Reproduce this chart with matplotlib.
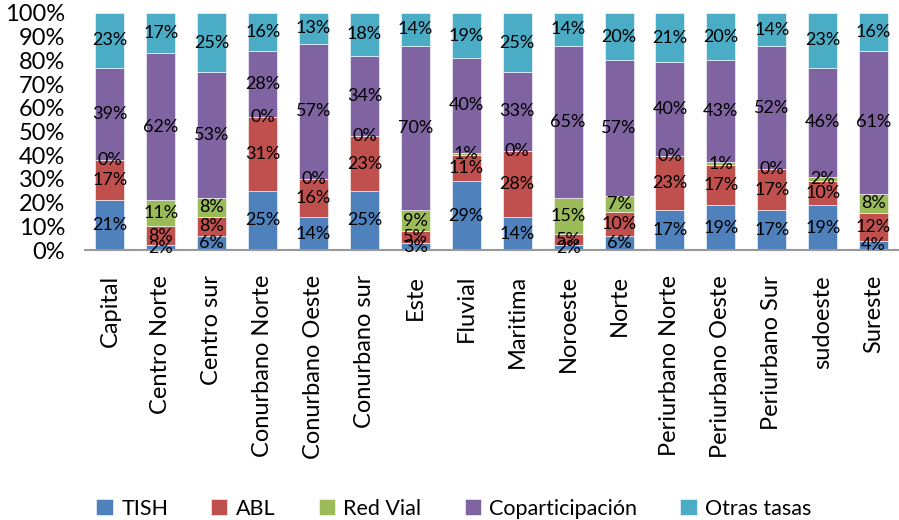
import matplotlib.pyplot as plt
import numpy as np

plt.rcParams['font.family'] = ['Lato', 'DejaVu Sans']

regiones = ["Capital", "Centro Norte", "Centro sur", "Conurbano Norte", "Conurbano Oeste",
            "Conurbano sur", "Este", "Fluvial", "Maritima", "Noroeste", "Norte",
            "Periurbano Norte", "Periurbano Oeste", "Periurbano Sur", "sudoeste", "Sureste"]

tish = [21, 2, 6, 25, 14, 25, 3, 29, 14, 2, 6, 17, 19, 17, 19, 4]
abl = [17, 8, 8, 31, 16, 23, 5, 11, 28, 5, 10, 23, 17, 17, 10, 12]
red_vial = [0, 11, 8, 0, 0, 0, 9, 1, 0, 15, 7, 0, 1, 0, 2, 8]
copart = [39, 62, 53, 28, 57, 34, 70, 40, 33, 65, 57, 40, 43, 52, 46, 61]
otras = [23, 17, 25, 16, 13, 18, 14, 19, 25, 14, 20, 21, 20, 14, 23, 16]

series = [tish, abl, red_vial, copart, otras]
nombres = ["TISH", "ABL", "Red Vial", "Coparticipación", "Otras tasas"]
colores = ["#4F81BD", "#C0504D", "#9BBB59", "#8064A2", "#4BACC6"]

datos = np.array(series, dtype=float)
shares = datos / datos.sum(axis=0) * 100

fig = plt.figure(figsize=(8.99, 5.2), dpi=100)
ax = fig.add_axes([0.094, 0.519, 0.906, 0.456])

x = np.arange(len(regiones))
bottom = np.zeros(len(regiones))
for i in range(len(series)):
    ax.bar(x, shares[i], 0.57, bottom=bottom, color=colores[i], label=nombres[i],
           edgecolor='white', linewidth=0.4)
    for j in range(len(regiones)):
        ax.text(x[j], bottom[j] + shares[i][j] / 2, f"{series[i][j]}%",
                ha='center', va='center', fontsize=13, color='black')
    bottom += shares[i]

ax.set_xlim(-0.5, len(regiones) - 0.5)
ax.set_ylim(0, 100)
ax.set_yticks(np.arange(0, 101, 10))
ax.set_yticklabels([f"{v}%" for v in range(0, 101, 10)], fontsize=17)
ax.set_xticks(x)
ax.set_xticklabels(regiones, rotation=90, fontsize=17)
ax.tick_params(length=0)
ax.tick_params(axis='y', pad=14)
ax.tick_params(axis='x', pad=18)
for s in ['top', 'right', 'left']:
    ax.spines[s].set_visible(False)
ax.spines['bottom'].set_color('#999999')
ax.spines['bottom'].set_linewidth(1.5)

fig.legend(loc='lower center', ncol=5, bbox_to_anchor=(0.505, -0.035), frameon=False,
           fontsize=15.5, handlelength=0.75, handleheight=0.75, columnspacing=2.0, handletextpad=0.4)

plt.savefig("out.png", dpi=100)
